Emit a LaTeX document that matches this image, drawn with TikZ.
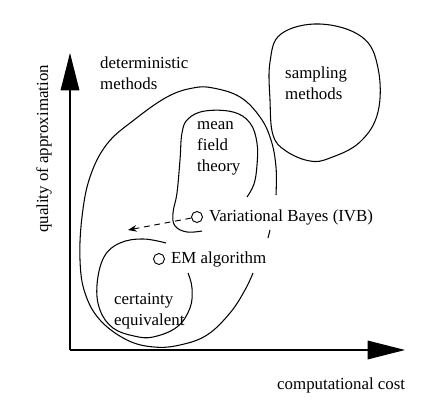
\documentclass[tikz,border=0pt]{standalone}
\usepackage{fontspec}
\setmainfont{Liberation Serif}
\usetikzlibrary{arrows.meta, positioning}

\begin{document}
\begin{tikzpicture}[
    x=0.03cm, y=-0.03cm,
    font=\fontsize{14.4}{18}\selectfont,
    axis/.style={line width=0.9pt, -{Triangle[length=1.12cm, width=0.56cm]}},
    region/.style={line width=0.9pt},
    dot/.style={circle, draw, line width=0.8pt, minimum size=0.33cm, inner sep=0pt},
    txt/.style={anchor=base west, inner sep=0pt, align=left},
    arrow/.style={->, >={Stealth[length=2.6mm, width=2mm]}, dash pattern=on 5pt off 4pt, line width=0.8pt}
]
    \useasboundingbox (0,0) rectangle (438,405);

    % Axes
    \coordinate (origin) at (70,350);
    \coordinate (ytip) at (70,53);
    \coordinate (xtip) at (405,350);
    \draw[axis] (origin) -- (ytip);
    \draw[axis] (origin) -- (xtip);
    \node[rotate=90, anchor=center, inner sep=0pt] (ylabel) at (44,149) {quality of approximation};
    \node[txt] (xlabel) at (277,390) {computational cost};

    % Sampling methods
    \draw[region] plot[smooth cycle, tension=0.65] coordinates {
        (270,62) (281,34) (320,24) (362,37) (378,68) (378,112) (360,142)
        (330,158) (310,161) (286,151) (273,135) (270,100)};
    \node[txt] (sampling) at (285,100) {sampling\\methods};

    % Deterministic methods
    \draw[region] plot[smooth, tension=0.65] coordinates {
        (276,195) (276,167) (271,140) (260,117) (240,97) (213,88) (193,88)
        (167,97) (134,120) (107,144) (90,177) (82,217) (80,260) (85,293)
        (100,320) (127,340) (154,347) (180,345) (207,335) (230,313) (245,290) (253,273)};
    \draw[region] (270,230) -- (268,238);
    \node[txt] (deterministic) at (100,90) {deterministic\\methods};

    % Mean field theory
    \draw[region] plot[smooth, tension=0.65] coordinates {
        (247,197) (254,184) (257,165) (257,143) (250,123) (233,112) (205,111)
        (188,119) (182,133) (180,160) (177,193) (173,213) (175,226) (187,232) (202,231)};
    \node[txt] (meanfield) at (197,172) {mean\\field\\theory};

    % Certainty equivalent
    \draw[region] plot[smooth, tension=0.65] coordinates {
        (166,243) (143,239) (120,243) (104,257) (97,285) (100,310) (113,328)
        (134,336) (153,337) (177,327) (190,308) (192,288) (188,273)};
    \node[txt] (certainty) at (114,326) {certainty\\equivalent};

    % Methods
    \node[dot] (vb) at (197,217) {};
    \node[txt, right=5pt of vb.east, anchor=west] (vblabel) {Variational Bayes (IVB)};
    \node[dot] (em) at (159,259) {};
    \node[txt, right=5pt of em.east, anchor=west] (emlabel) {EM algorithm};

    % Dashed arrow
    \coordinate (vbend) at (128,230);
    \draw[arrow] (vb) -- (vbend);
\end{tikzpicture}
\end{document}
